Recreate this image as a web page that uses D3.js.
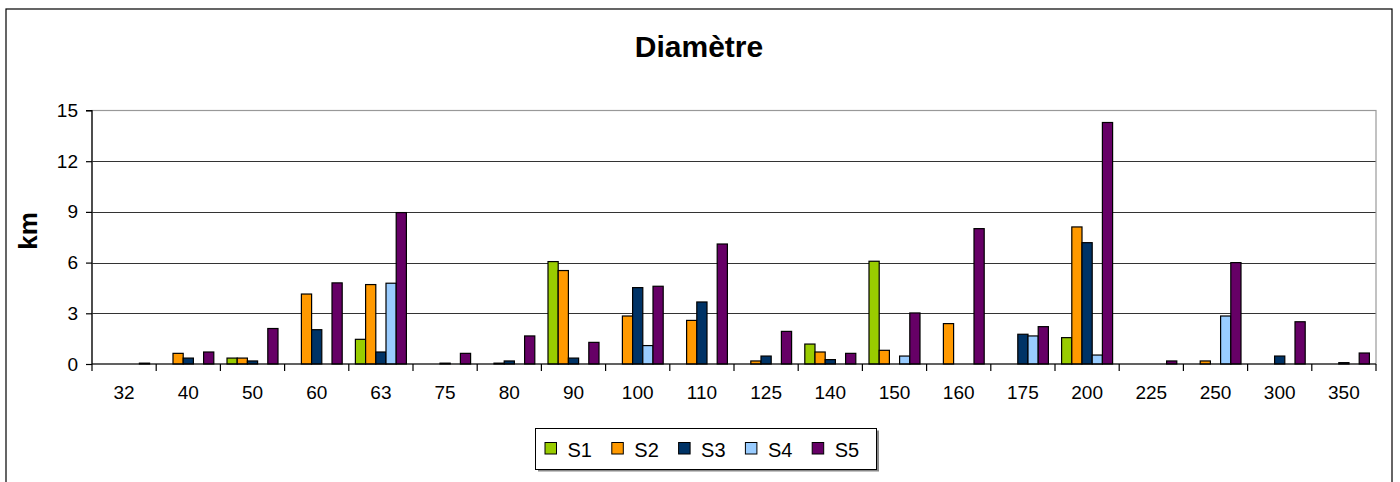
<!DOCTYPE html>
<html><head><meta charset="utf-8">
<script src="https://cdn.jsdelivr.net/npm/d3@7/dist/d3.min.js"></script>
<style>body{margin:0;background:#fff;}svg{display:block;font-family:"Liberation Sans",Arial,sans-serif;}</style>
</head><body><svg id="c" width="1400" height="482"></svg>
<script>
const categories = ["32","40","50","60","63","75","80","90","100","110","125","140","150","160","175","200","225","250","300","350"];
const seriesNames = ["S1","S2","S3","S4","S5"];
const seriesColors = ["#99CC00","#FF9900","#003366","#99CCFF","#660066"];
const S1 = [0,0,0.35,0,1.46,0,0,6.06,0,0,0,1.18,6.08,0,0,1.56,0,0,0,0];
const S2 = [0,0.63,0.35,4.14,4.7,0,0.05,5.53,2.84,2.58,0.18,0.71,0.81,2.39,0,8.11,0,0.18,0,0];
const S3 = [0,0.35,0.18,2.03,0.71,0.05,0.18,0.35,4.52,3.67,0.47,0.26,0,0,1.76,7.18,0,0,0.47,0.08];
const S4 = [0,0,0,0,4.78,0,0,0,1.09,0,0,0,0.47,0,1.66,0.53,0,2.84,0,0];
const S5 = [0.05,0.71,2.1,4.8,8.96,0.63,1.66,1.28,4.6,7.1,1.93,0.63,3.02,8.01,2.21,14.29,0.18,6.0,2.5,0.65];
const yTicks = [0,3,6,9,12,15];
const title = "Diamètre";
const yLabel = "km";

const seriesData = [S1,S2,S3,S4,S5];
const svg = d3.select("#c");
const L = 92, R = 1376, T = 110.5, B = 364;

// outer frame
svg.append("rect").attr("x",6).attr("y",9).attr("width",1386).attr("height",490)
  .attr("fill","#fff").attr("stroke","#000").attr("stroke-width",1.2);

const x0 = d3.scaleBand().domain(categories).range([L,R]).padding(0);
const gap = 6.6;
const x1 = d3.scaleBand().domain(seriesNames).range([gap, x0.bandwidth()-gap]).padding(0);
const y = d3.scaleLinear().domain([0,15]).range([B,T]);

// gridlines
svg.append("g").selectAll("line").data(yTicks.filter(v=>v>0 && v<15)).join("line")
  .attr("x1",L).attr("x2",R).attr("y1",d=>Math.round(y(d))+0.5).attr("y2",d=>Math.round(y(d))+0.5)
  .attr("stroke","#333").attr("stroke-width",1);
// plot border (grey)
svg.append("rect").attr("x",L).attr("y",T).attr("width",R-L).attr("height",B-T)
  .attr("fill","none").attr("stroke","#999").attr("stroke-width",1.2);

// bars
const g = svg.append("g");
categories.forEach((c,i)=>{
  seriesData.forEach((s,j)=>{
    const v = s[i];
    if (!v) return;
    g.append("rect")
      .attr("x", x0(c)+x1(seriesNames[j]))
      .attr("y", y(v))
      .attr("width", x1.bandwidth())
      .attr("height", Math.max(0.5, y(0)-y(v)))
      .attr("fill", seriesColors[j]).attr("stroke","#000").attr("stroke-width",1.2);
  });
});

// y axis
const ya = d3.axisLeft(y).tickValues(yTicks).tickSize(6).tickPadding(8);
const yg = svg.append("g").attr("transform",`translate(${L},0)`).call(ya);
yg.select(".domain").attr("stroke","#000").attr("stroke-width",1.2).attr("d",`M-6,${T}H0V${B}`);
yg.selectAll(".tick line").attr("stroke","#000").attr("stroke-width",1.2);
yg.selectAll("text").attr("font-size",19).attr("fill","#000").attr("font-family","Liberation Sans, Arial, sans-serif");

// x axis
const xa = d3.axisBottom(x0).tickSize(0).tickPadding(22);
const xg = svg.append("g").attr("transform",`translate(0,${B})`).call(xa);
xg.select(".domain").attr("stroke","#000").attr("stroke-width",1.2).attr("d",`M${L},0H${R}`);
xg.selectAll("text").attr("font-size",19).attr("fill","#000").attr("font-family","Liberation Sans, Arial, sans-serif");
// boundary ticks
xg.append("g").selectAll("line").data(d3.range(categories.length+1)).join("line")
  .attr("x1",d=>L+d*x0.step()).attr("x2",d=>L+d*x0.step()).attr("y1",0).attr("y2",7)
  .attr("stroke","#000").attr("stroke-width",1.2);

// title
svg.append("text").attr("x",699).attr("y",56.5).attr("text-anchor","middle")
  .attr("font-size",30).attr("font-weight","bold").text(title);
// y label
svg.append("text").attr("transform","translate(37,231) rotate(-90)").attr("text-anchor","middle")
  .attr("font-size",26).attr("font-weight","bold").text(yLabel);

// legend
const lg = svg.append("g");
lg.append("rect").attr("x",538).attr("y",430.5).attr("width",341).attr("height",41).attr("fill","#888");
lg.append("rect").attr("x",535.5).attr("y",428.5).attr("width",341).attr("height",41).attr("fill","#fff").attr("stroke","#000").attr("stroke-width",1);
seriesNames.forEach((n,j)=>{
  const lx = 545 + j*66.8;
  lg.append("rect").attr("x",lx).attr("y",442.5).attr("width",11.5).attr("height",11.5)
    .attr("fill",seriesColors[j]).attr("stroke","#000").attr("stroke-width",1);
  lg.append("text").attr("x",lx+22.5).attr("y",456.5).attr("font-size",20).text(n);
});
</script></body></html>
